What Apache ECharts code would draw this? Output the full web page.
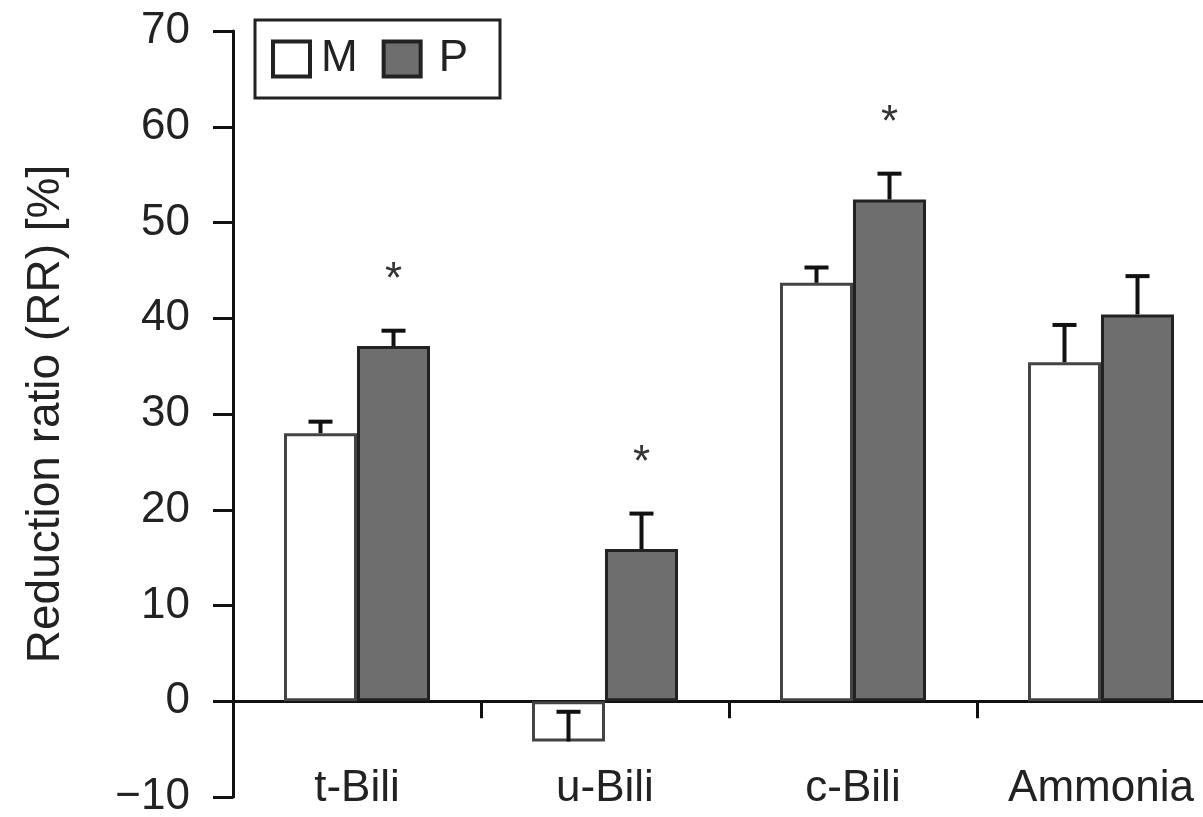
<!DOCTYPE html>
<html>
<head>
<meta charset="utf-8">
<script src="https://cdn.jsdelivr.net/npm/echarts@6/dist/echarts.min.js"></script>
<style>html,body{margin:0;padding:0;background:#fff;}#chart{width:1203px;height:817px;}</style>
</head>
<body>
<div id="chart"></div>
<script>
var categories = ['t-Bili', 'u-Bili', 'c-Bili', 'Ammonia'];
var mValues = [28.0, -4.2, 43.7, 35.4];
var mErr = [1.2, 3.1, 1.6, 3.9];
var pValues = [37.1, 15.9, 52.4, 40.4];
var pErr = [1.6, 3.7, 2.7, 4.0];
var pSignificant = ['*', '*', '*', ''];
var yTicks = [-10, 0, 10, 20, 30, 40, 50, 60, 70];

var FONT = 'Liberation Sans, Arial, sans-serif';
var TXT = '#222';
var BAR_W = 73;

var chart = echarts.init(document.getElementById('chart'), null, {renderer: 'canvas'});

function errorSeries(name, values, errs, side, marks) {
  return {
    type: 'custom',
    name: name + ' err',
    silent: true,
    z: 5,
    data: values.map(function (v, i) { return [i, v, errs[i]]; }),
    renderItem: function (params, api) {
      var i = api.value(0), v = api.value(1), e = api.value(2);
      var p0 = api.coord([i, v]);
      var p1 = api.coord([i, v + e]);
      var x = p0[0] + side * BAR_W / 2;
      var children = [
        {type: 'line', shape: {x1: x, y1: p0[1], x2: x, y2: p1[1]}, style: {stroke: '#111', lineWidth: 4}},
        {type: 'line', shape: {x1: x - 12, y1: p1[1], x2: x + 12, y2: p1[1]}, style: {stroke: '#111', lineWidth: 4}}
      ];
      if (marks && marks[i]) {
        children.push({type: 'text', x: x, y: p1[1] - 50,
          style: {text: marks[i], font: '44px ' + FONT, fill: '#333', align: 'center', verticalAlign: 'middle'}});
      }
      return {type: 'group', children: children};
    }
  };
}

var option = {
  backgroundColor: '#fff',
  animation: false,
  textStyle: {fontFamily: FONT},
  grid: {left: 233, top: 31, width: 992, height: 766, containLabel: false, outerBoundsMode: 'none'},
  legend: {
    left: 255, top: 20,
    orient: 'horizontal',
    padding: [17, 32, 17, 16],
    itemWidth: 37, itemHeight: 35, itemGap: 24,
    borderColor: '#222', borderWidth: 3,
    backgroundColor: '#fff',
    textStyle: {fontSize: 44, color: TXT, fontFamily: FONT, padding: [0, 0, 0, 6]},
    data: [
      {name: 'M', icon: 'rect', itemStyle: {color: '#fff', borderColor: '#222', borderWidth: 4}},
      {name: 'P', icon: 'rect', itemStyle: {color: '#6e6e6e', borderColor: '#222', borderWidth: 4},
        textStyle: {padding: [0, 0, 0, 13]}}
    ]
  },
  xAxis: [{
    type: 'category',
    data: categories,
    axisLine: {onZero: true, lineStyle: {color: '#111', width: 3}},
    axisTick: {show: true, length: 17, lineStyle: {color: '#111', width: 3}},
    axisLabel: {show: false},
    splitLine: {show: false}
  }, {
    type: 'category',
    data: categories,
    position: 'bottom',
    offset: -30,
    axisLine: {show: false, onZero: false},
    axisTick: {show: false},
    axisLabel: {show: true, fontSize: 44, color: TXT, fontFamily: FONT, margin: 0, hideOverlap: false},
    splitLine: {show: false}
  }],
  yAxis: {
    type: 'value',
    min: -10, max: 70, interval: 10,
    name: 'Reduction ratio (RR) [%]',
    nameLocation: 'middle',
    nameGap: 164,
    nameTextStyle: {fontSize: 46, color: TXT, fontFamily: FONT},
    axisLine: {show: true, onZero: false, lineStyle: {color: '#111', width: 3}},
    axisTick: {show: true, length: 20, lineStyle: {color: '#111', width: 3}},
    axisLabel: {fontSize: 44, color: TXT, fontFamily: FONT, margin: 43,
      formatter: function (v) { return yTicks.indexOf(v) >= 0 ? (v < 0 ? '\u2212' + Math.abs(v) : String(v)) : ''; }},
    splitLine: {show: false}
  },
  series: [
    {name: 'M', type: 'bar', data: mValues, barWidth: BAR_W, barGap: '0%',
      itemStyle: {color: '#fff', borderColor: '#444', borderWidth: 3}},
    {name: 'P', type: 'bar', data: pValues, barWidth: BAR_W, barGap: '0%',
      itemStyle: {color: '#6e6e6e', borderColor: '#222', borderWidth: 3}},
    errorSeries('M', mValues, mErr, -1, null),
    errorSeries('P', pValues, pErr, 1, pSignificant)
  ]
};
chart.setOption(option);
</script>
</body>
</html>
